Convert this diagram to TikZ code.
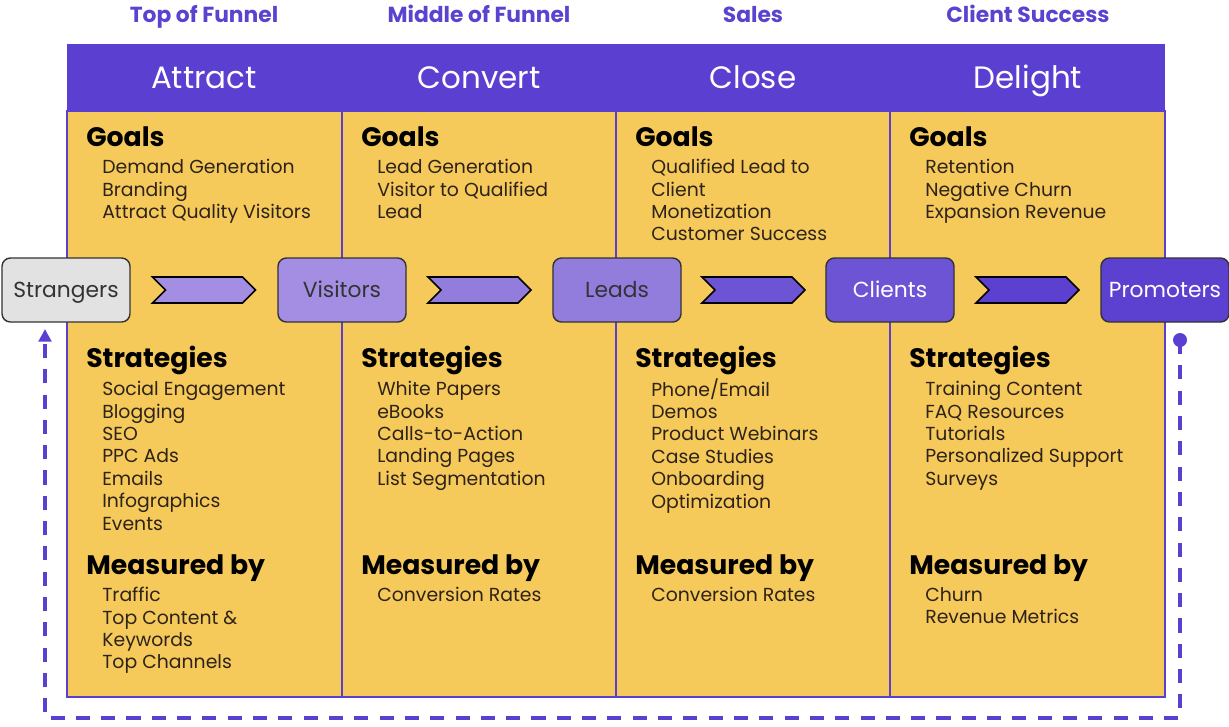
\documentclass[tikz,border=0pt]{standalone}
\usepackage{fontspec}
\setmainfont{Poppins}
\usepackage{tikz}
\usetikzlibrary{shapes, arrows.meta, calc}

\definecolor{funnelpurple}{RGB}{91,63,208}
\definecolor{toplabel}{RGB}{90,67,207}
\definecolor{bodyyellow}{RGB}{246,201,91}
\definecolor{itemtext}{RGB}{45,35,25}
\definecolor{strangerfill}{RGB}{226,226,226}
\definecolor{visitorfill}{RGB}{163,142,227}
\definecolor{leadfill}{RGB}{146,125,221}
\definecolor{clientfill}{RGB}{108,84,212}
\definecolor{promoterfill}{RGB}{92,64,208}

\tikzset{
  stage/.style={draw=black!80, line width=1pt, rounded corners=6pt, minimum width=3.2cm,
    minimum height=1.6cm, inner sep=0pt, text height=10.9pt, text depth=0pt,
    font=\fontsize{15.5}{18}\selectfont},
  chev/.style={shape=signal, signal from=west, signal to=east, signal pointer angle=90,
    draw=black, line width=1.2pt, minimum width=2.575cm, minimum height=0.65cm, inner sep=0pt},
  stagename/.style={text=white, inner sep=0pt, text height=15.4pt, text depth=0pt,
    font=\fontsize{22}{26}\selectfont},
  toptext/.style={text=toplabel, inner sep=0pt, text height=10.9pt, text depth=0pt,
    font=\bfseries\fontsize{15.5}{18}\selectfont},
  heading/.style={anchor=base west, inner sep=0pt, font=\bfseries\fontsize{19}{22}\selectfont},
  items/.style={anchor=north west, inner sep=0pt, align=left, text=itemtext,
    font=\fontsize{13.4}{15.95}\selectfont},
  colbox/.style={fill=bodyyellow, draw=funnelpurple, line width=1.5pt},
  loopline/.style={draw=funnelpurple, line width=2.2pt, dash pattern=on 10pt off 8pt}
}

\begin{document}
\begin{tikzpicture}[x=0.025cm, y=-0.025cm]
\useasboundingbox (0,0) rectangle (1229,726);

% stage labels above the header
\node[toptext] (tofu) at (204,15) {Top of Funnel};
\node[toptext] (mofu) at (479,15) {Middle of Funnel};
\node[toptext] (sales) at (753,15) {Sales};
\node[toptext] (success) at (1028,15) {Client Success};

% the four columns
\draw[colbox] (67,111) rectangle (342,697);
\draw[colbox] (342,111) rectangle (616,697);
\draw[colbox] (616,111) rectangle (890,697);
\draw[colbox] (890,111) rectangle (1165,697);
\fill[funnelpurple] (67,44) rectangle (1165,112);

\node[stagename] (attract) at (204,78) {Attract};
\node[stagename] (convert) at (479,78) {Convert};
\node[stagename] (close) at (753,78) {Close};
\node[stagename] (delight) at (1028,78) {Delight};

% goals
\node[heading] (goalsA) at (86,146) {Goals};
\node[heading] (goalsB) at (361,146) {Goals};
\node[heading] (goalsC) at (635,146) {Goals};
\node[heading] (goalsD) at (909,146) {Goals};
\node[items] (goalsAlist) at (102,159) {Demand Generation\\Branding\\Attract Quality Visitors};
\node[items] (goalsBlist) at (377,159) {Lead Generation\\Visitor to Qualified\\Lead};
\node[items] (goalsClist) at (651,159) {Qualified Lead to\\Client\\Monetization\\Customer Success};
\node[items] (goalsDlist) at (925,159) {Retention\\Negative Churn\\Expansion Revenue};

% strategies
\node[heading] (stratA) at (86,367) {Strategies};
\node[heading] (stratB) at (361,367) {Strategies};
\node[heading] (stratC) at (635,367) {Strategies};
\node[heading] (stratD) at (909,367) {Strategies};
\node[items] (stratAlist) at (102,381) {Social Engagement\\Blogging\\SEO\\PPC Ads\\Emails\\Infographics\\Events};
\node[items] (stratBlist) at (377,381) {White Papers\\eBooks\\Calls-to-Action\\Landing Pages\\List Segmentation};
\node[items] (stratClist) at (651,378) {Phone/Email\\Demos\\Product Webinars\\Case Studies\\Onboarding\\Optimization};
\node[items] (stratDlist) at (925,381) {Training Content\\FAQ Resources\\Tutorials\\Personalized Support\\Surveys};

% measured by
\node[heading] (measA) at (86,574) {Measured by};
\node[heading] (measB) at (361,574) {Measured by};
\node[heading] (measC) at (635,574) {Measured by};
\node[heading] (measD) at (909,574) {Measured by};
\node[items] (measAlist) at (102,587) {Traffic\\Top Content \&\\Keywords\\Top Channels};
\node[items] (measBlist) at (377,587) {Conversion Rates};
\node[items] (measClist) at (651,587) {Conversion Rates};
\node[items] (measDlist) at (925,587) {Churn\\Revenue Metrics};

% buyer stages
\node[stage, fill=strangerfill, text=black!80] (strangers) at (66,290) {Strangers};
\node[stage, fill=visitorfill, text=black!80] (visitors) at (342,290) {Visitors};
\node[stage, fill=leadfill, text=black!80] (leads) at (617,290) {Leads};
\node[stage, fill=clientfill, text=white] (clients) at (890,290) {Clients};
\node[stage, fill=promoterfill, text=white] (promoters) at (1165,290) {Promoters};

\node[chev, fill=visitorfill] (chevA) at ($(strangers)!0.5!(visitors)$) {};
\node[chev, fill=leadfill] (chevB) at ($(visitors)!0.5!(leads)$) {};
\node[chev, fill=clientfill] (chevC) at ($(leads)!0.5!(clients)$) {};
\node[chev, fill=promoterfill] (chevD) at ($(clients)!0.5!(promoters)$) {};

% promoters loop back to strangers
\fill[funnelpurple] (1180,340) circle (7) coordinate (loopstart);
\coordinate (loopend) at (45,329);
\draw[loopline, -{Triangle[length=9pt,width=9pt]}] (loopstart) -- (loopstart |- 0,718) -- (loopend |- 0,718) -- (loopend);
\end{tikzpicture}
\end{document}
